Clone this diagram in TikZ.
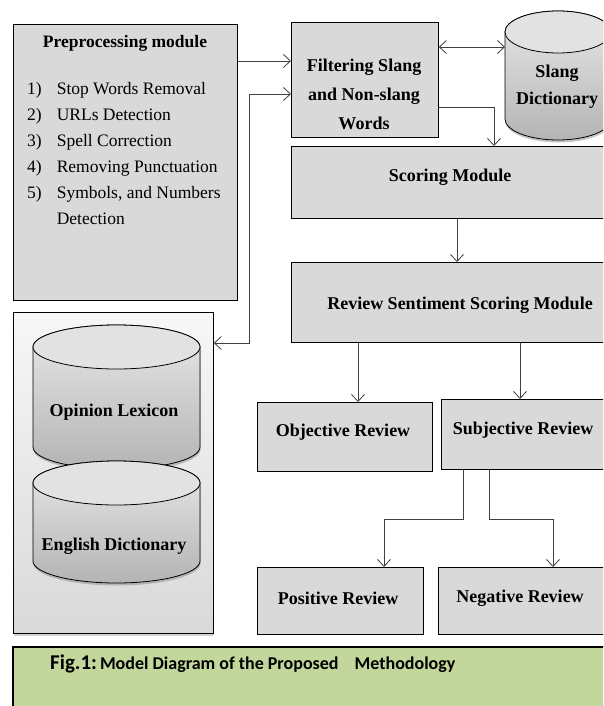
\documentclass[tikz,border=0pt]{standalone}
\usepackage{fontspec}
\setmainfont{Liberation Serif}
\newfontfamily\capfont{Carlito}
\usetikzlibrary{arrows.meta,shadows,calc}
\definecolor{boxgray}{HTML}{D9D9D9}
\definecolor{capgreen}{HTML}{C3D69B}
\definecolor{linegray}{HTML}{404040}
\definecolor{cyltop}{HTML}{E8E8E8}
\definecolor{cylbot}{HTML}{B4B4B4}
\definecolor{cylcap}{HTML}{E2E2E2}
\newcommand{\drawcyl}[5]{%
  \shadedraw[top color=cyltop, bottom color=cylbot, draw=black, line width=0.8pt,
             drop shadow={shadow xshift=0.5pt, shadow yshift=-2.5pt, opacity=0.45}]
    (#1-#4,#2) -- (#1-#4,#3) arc[start angle=180,end angle=360,x radius=#4,y radius=#5]
    -- (#1+#4,#2) arc[start angle=0,end angle=180,x radius=#4,y radius=#5] -- cycle;
  \draw[fill=cylcap, line width=0.8pt] (#1,#2) ellipse[x radius=#4, y radius=#5];
}
\tikzset{
  box/.style={draw=black, line width=0.8pt, fill=boxgray, anchor=north west, inner sep=0pt},
  lbl/.style={font=\fontsize{18}{29}\selectfont\bfseries, align=center, inner sep=0pt},
  conn/.style={draw=linegray, line width=0.8pt, -{Straight Barb[length=7pt,width=13pt]}},
  dconn/.style={draw=linegray, line width=0.8pt, {Straight Barb[length=7pt,width=13pt]}-{Straight Barb[length=7pt,width=13pt]}},
  ghost/.style={draw=none, inner sep=0pt, anchor=north west},
}
\begin{document}
\begin{tikzpicture}[x=1pt,y=1pt]
\useasboundingbox (0,0) rectangle (603,-706);
\clip (0,0) rectangle (603,-706);
\fill[white] (0,0) rectangle (603,-706);

% Preprocessing module
\node[box, minimum width=224pt, minimum height=276pt] (pre) at (13,-24) {};
\node[lbl, font=\fontsize{17.5}{26}\selectfont\bfseries] (pretitle) at (125,-43) {Preprocessing module};
\node[anchor=north west, inner sep=0pt, font=\fontsize{17.5}{26}\selectfont] (prelist) at (27,-76)
  {\begin{tabular}{@{}l@{\hspace{15pt}}l@{}}
   1) & Stop Words Removal\\
   2) & URLs Detection\\
   3) & Spell Correction\\
   4) & Removing Punctuation\\
   5) & Symbols, and Numbers\\
      & Detection
   \end{tabular}};

% Filtering
\node[box, minimum width=147pt, minimum height=115pt] (filt) at (291,-22) {};
\node[lbl] (filttext) at (364,-94) {Filtering Slang\\and Non-slang\\Words};

% Slang dictionary
\drawcyl{558}{-32}{-119}{53}{21}
\node[ghost, minimum width=106pt, minimum height=130pt] (slang) at (505,-10) {};
\node[lbl, font=\fontsize{18}{27}\selectfont\bfseries] (slangtext) at (557,-87) {Slang\\Dictionary};

% Scoring
\node[box, minimum width=321pt, minimum height=72pt] (score) at (291,-146) {};
\node[lbl] (scoretext) at (450,-177) {Scoring Module};

% Review sentiment scoring
\node[box, minimum width=337pt, minimum height=80pt] (rssm) at (291,-262) {};
\node[lbl] (rssmtext) at (460,-305) {Review Sentiment Scoring Module};

% Objective / Subjective
\node[box, minimum width=175pt, minimum height=69pt] (obj) at (257,-402) {};
\node[lbl] (objtext) at (343,-432) {Objective Review};
\node[box, minimum width=170pt, minimum height=70pt] (subj) at (441,-399) {};
\node[lbl] (subjtext) at (523,-430) {Subjective Review};

% Positive / Negative
\node[box, minimum width=166pt, minimum height=67pt] (pos) at (257,-567) {};
\node[lbl] (postext) at (338,-598) {Positive Review};
\node[box, minimum width=174pt, minimum height=67pt] (neg) at (438,-567) {};
\node[lbl] (negtext) at (520,-598) {Negative Review};

% Lexicon container
\node[draw=black, line width=0.8pt, top color=gray!6, bottom color=gray!30,
      drop shadow={shadow xshift=1pt, shadow yshift=-3pt, opacity=0.35},
      anchor=north west, inner sep=0pt, minimum width=200pt, minimum height=321pt] (lexbox) at (13,-312) {};
\drawcyl{116.5}{-347}{-447}{83.5}{22}
\node[ghost, minimum width=167pt, minimum height=130pt] (opin) at (33,-325) {};
\node[lbl] (opintext) at (114,-412) {Opinion Lexicon};
\drawcyl{116.5}{-483}{-561}{83.5}{22}
\node[ghost, minimum width=167pt, minimum height=122pt] (eng) at (33,-461) {};
\node[lbl] (engtext) at (114,-546) {English Dictionary};

% Caption
\node[draw=black, line width=2pt, fill=capgreen, anchor=north west, inner sep=0pt,
      minimum width=620pt, minimum height=80pt] (capbox) at (12,-646) {};
\node[anchor=base west, inner sep=0pt, font=\capfont\bfseries] (captext) at (50,-669)
  {{\fontsize{21}{21}\selectfont Fig.1:} {\fontsize{18}{18}\selectfont Model Diagram of the Proposed\hspace{12pt} Methodology}};

% connector helper coordinates
\coordinate (yA) at (0,-61);
\coordinate (yB) at (0,-47);
\coordinate (c1) at (494,-107);
\coordinate (c2) at (457,0);
\coordinate (c3) at (358,0);
\coordinate (c4) at (520,0);
\coordinate (c5) at (463,-519);
\coordinate (c6) at (384,0);
\coordinate (c7) at (489,-519);
\coordinate (c8) at (553,0);
\coordinate (c9) at (249,-343);
\coordinate (c10) at (249,-94);

% connectors
\draw[conn] (pre.east |- yA) -- (filt.west |- yA);
\draw[dconn] (lexbox.east |- c9) -- (c9) -- (c10) -- (filt.west |- c10);
\draw[dconn] (filt.east |- yB) -- (slang.west |- yB);
\draw[conn] (filt.east |- c1) -| (score.north -| c1);
\draw[conn] (score.south -| c2) -- (rssm.north -| c2);
\draw[conn] (rssm.south -| c3) -- (obj.north -| c3);
\draw[conn] (rssm.south -| c4) -- (subj.north -| c4);
\draw[conn] (subj.south -| c5) -- (c5) -| (pos.north -| c6);
\draw[conn] (subj.south -| c7) -- (c7) -| (neg.north -| c8);
\end{tikzpicture}
\end{document}
